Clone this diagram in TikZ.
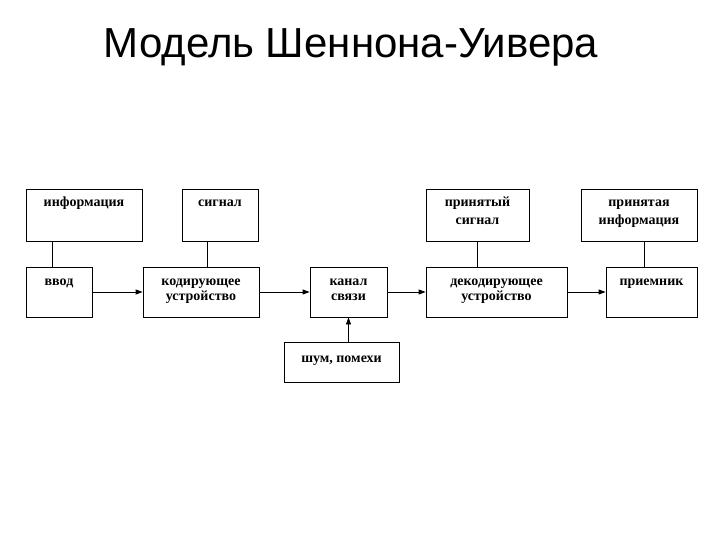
\documentclass[tikz,border=0pt]{standalone}
\usepackage{fontspec}
\setmainfont{Liberation Serif}
\newfontfamily\titlefont{Liberation Sans}
\usetikzlibrary{arrows.meta}
\newcommand{\lbltext}[1]{\begin{tabular}[t]{@{}c@{}}#1\end{tabular}}
\tikzset{
    blk/.style={draw=black, line width=0.8pt, inner sep=0pt},
    lbl/.style={font=\bfseries\fontsize{14}{18}\selectfont, anchor=base, inner sep=0pt, yshift=-18pt},
    lowlbl/.style={lbl, font=\bfseries\fontsize{14}{14.5}\selectfont, yshift=-1pt},
    link/.style={draw=black, line width=0.8pt},
    arr/.style={link, -{Triangle[length=7pt,width=5pt]}}
}

\begin{document}
\begin{tikzpicture}[x=1pt, y=-1pt]
  % page size
  \useasboundingbox (0,0) rectangle (720,540);

  % title
  \node[font=\titlefont\fontsize{42}{50}\selectfont, anchor=base] (title) at (351,58) {Модель Шеннона-Уивера};

  % upper row
  \node[blk, minimum width=116, minimum height=52, label={[lbl]north:\lbltext{информация}}] (info) at (84,215) {};
  \node[blk, minimum width=76,  minimum height=52, label={[lbl]north:\lbltext{сигнал}}] (sig) at (220,215) {};
  \node[blk, minimum width=103, minimum height=52, label={[lbl]north:\lbltext{принятый\\сигнал}}] (rsig) at (477.5,215) {};
  \node[blk, minimum width=116, minimum height=52, label={[lbl]north:\lbltext{принятая\\информация}}] (rinfo) at (639,215) {};

  % lower row
  \node[blk, minimum width=66,  minimum height=50, label={[lowlbl]north:\lbltext{ввод}}] (input) at (59,292) {};
  \node[blk, minimum width=116, minimum height=50, label={[lowlbl]north:\lbltext{кодирующее\\устройство}}] (coder) at (201,292) {};
  \node[blk, minimum width=77,  minimum height=50, label={[lowlbl]north:\lbltext{канал\\связи}}] (chan) at (348.5,292) {};
  \node[blk, minimum width=141, minimum height=50, label={[lowlbl]north:\lbltext{декодирующее\\устройство}}] (decoder) at (496.5,292) {};
  \node[blk, minimum width=91,  minimum height=50, label={[lowlbl]north:\lbltext{приемник}}] (recv) at (651.5,292) {};

  % noise
  \node[blk, minimum width=115, minimum height=40, label={[lowlbl, yshift=-2pt]north:\lbltext{шум, помехи}}] (noise) at (341.5,362) {};

  % vertical links
  \draw[link] ([xshift=-7]input.north) -- ([xshift=-7]input.north |- info.south);
  \draw[link] ([xshift=6]coder.north) -- ([xshift=6]coder.north |- sig.south);
  \draw[link] (rsig.south) -- (rsig.south |- decoder.north);
  \draw[link] ([xshift=5]rinfo.south) -- ([xshift=5]rinfo.south |- recv.north);

  % signal path
  \draw[arr] (input) -- (coder);
  \draw[arr] (coder) -- (chan);
  \draw[arr] (chan) -- (decoder);
  \draw[arr] (decoder) -- (recv);
  \draw[arr] (noise.north -| chan.south) -- (chan.south);
\end{tikzpicture}
\end{document}
